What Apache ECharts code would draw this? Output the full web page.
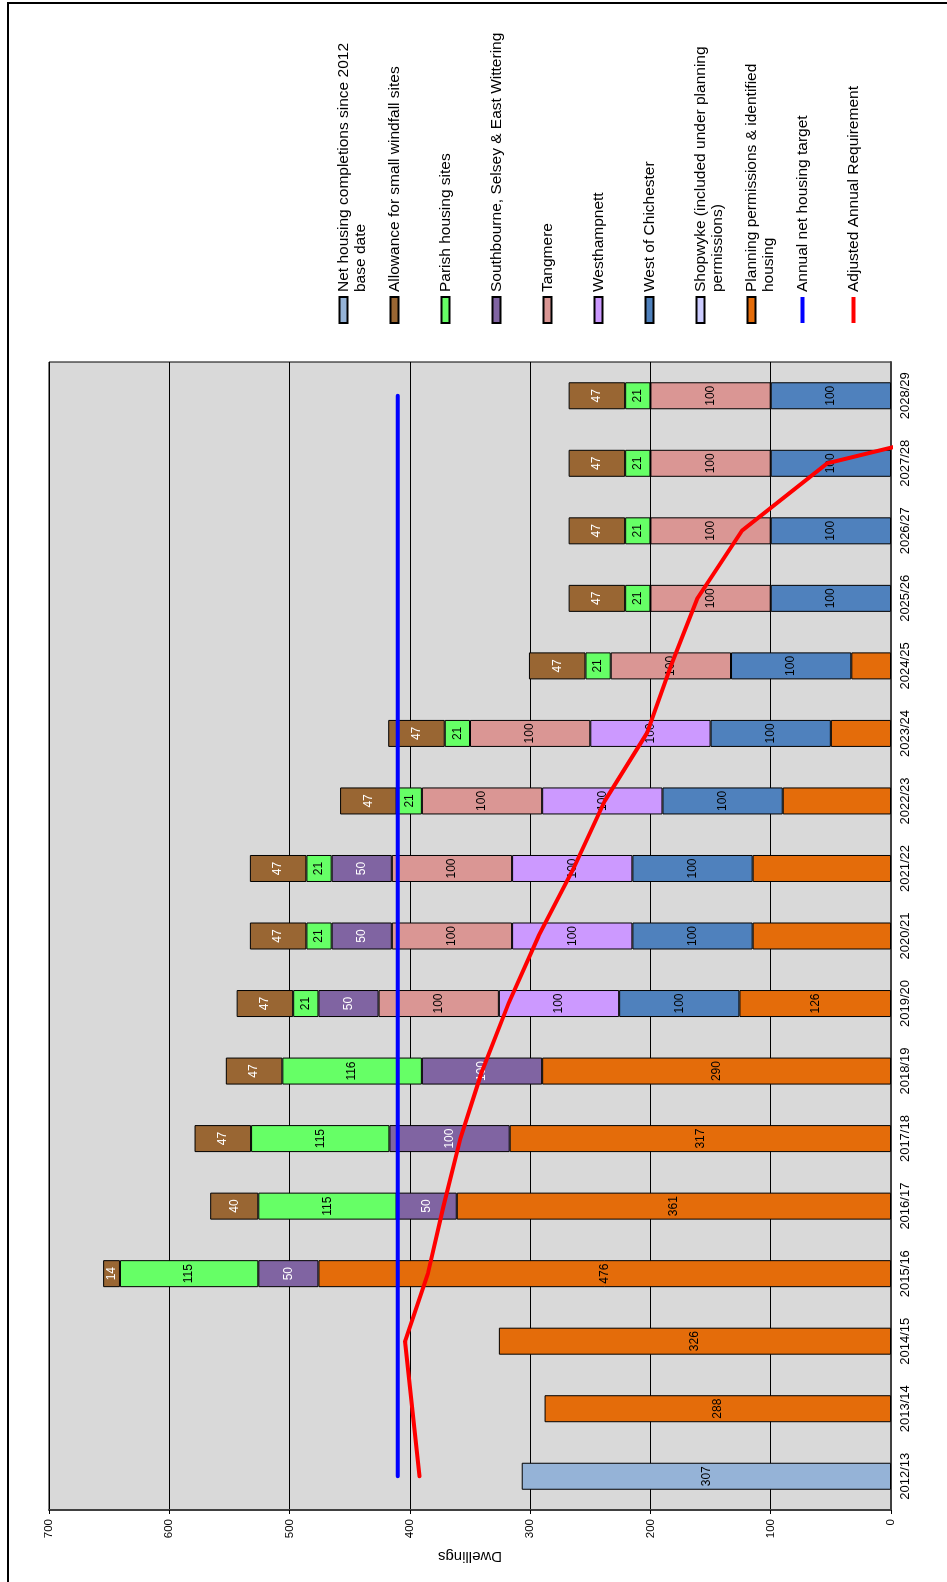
<!DOCTYPE html>
<html>
<head>
<meta charset="utf-8">
<script src="https://cdn.jsdelivr.net/npm/echarts@6/dist/echarts.min.js"></script>
<style>
  html, body { margin:0; padding:0; width:947px; height:1582px; overflow:hidden; background:#fff; }
  #rot { position:absolute; left:0; top:0; width:1582px; height:947px;
         transform-origin:0 0; transform: translateY(1582px) rotate(-90deg); }
  #frame { position:absolute; left:7px; top:2px; width:1000px; height:1700px;
           border-left:2px solid #000; border-top:2px solid #000; pointer-events:none; }
</style>
</head>
<body>
<div id="rot"></div>
<div id="frame"></div>
<script>
const categories = ['2012/13','2013/14','2014/15','2015/16','2016/17','2017/18','2018/19','2019/20','2020/21','2021/22','2022/23','2023/24','2024/25','2025/26','2026/27','2027/28','2028/29'];
const valueTicks = { min: 0, max: 700, interval: 100 };

const completions    = [307,'-','-','-','-','-','-','-','-','-','-','-','-','-','-','-','-'];
const planning       = ['-',288,326,476,361,317,290,126,115,115,90,50,33,'-','-','-','-'];
const planningLabel  = [false,true,true,true,true,true,true,true,false,false,false,false,false,false,false,false,false];
const shopwyke       = ['-','-','-','-','-','-','-','-','-','-','-','-','-','-','-','-','-'];
const westChichester = ['-','-','-','-','-','-','-',100,100,100,100,100,100,100,100,100,100];
const westhampnett   = ['-','-','-','-','-','-','-',100,100,100,100,100,'-','-','-','-','-'];
const tangmere       = ['-','-','-','-','-','-','-',100,100,100,100,100,100,100,100,100,100];
const southbourne    = ['-','-','-',50,50,100,100,50,50,50,'-','-','-','-','-','-','-'];
const parish         = ['-','-','-',115,115,115,116,21,21,21,21,21,21,21,21,21,21];
const windfall       = ['-','-','-',14,40,47,47,47,47,47,47,47,47,47,47,47,47];
const target         = [410,410,410,410,410,410,410,410,410,410,410,410,410,410,410,410,410];
const adjusted       = [392,398,404,385,372,358,340,318,293,264,238,203,183,161,124,53,-176];

const N = {
  comp: 'Net housing completions since 2012 base date',
  wind: 'Allowance for small windfall sites',
  par: 'Parish housing sites',
  sou: 'Southbourne, Selsey & East Wittering',
  tan: 'Tangmere',
  wes: 'Westhampnett',
  woc: 'West of Chichester',
  sho: 'Shopwyke (included under planning permissions)',
  pla: 'Planning permissions & identified housing',
  tar: 'Annual net housing target',
  adj: 'Adjusted Annual Requirement'
};
const legendWrapped = {};
legendWrapped[N.comp] = ['Net housing completions since 2012', 'base date'];
legendWrapped[N.sho] = ['Shopwyke (included under planning', 'permissions)'];
legendWrapped[N.pla] = ['Planning permissions & identified', 'housing'];

const FONT = "'Liberation Sans', Arial, sans-serif";

function barSeries(name, data, color, labelColor, labelFlags) {
  return {
    name: name, type: 'bar', stack: 'total', barWidth: 27,
    data: data.map((v, i) => (labelFlags && !labelFlags[i] && v !== '-') ? { value: v, label: { show: false } } : v),
    itemStyle: { color: color, borderColor: '#000', borderWidth: 1 },
    label: { show: true, position: 'inside', color: labelColor, fontSize: 12, fontFamily: FONT },
    emphasis: { disabled: true }
  };
}

const LH = 17;
// every legend entry is a 3-line block whose middle line sits on the swatch
function legendFormat(name) {
  const w = legendWrapped[name];
  if (w) return ' \n' + w[0] + '\n' + w[1];
  return ' \n' + name + '\n ';
}
const lineIcon = 'path://M0,0H26V4H0Z';

const chart = echarts.init(document.getElementById('rot'), null, { renderer: 'canvas' });
chart.setOption({
  animation: false,
  backgroundColor: 'transparent',
  textStyle: { fontFamily: FONT },
  grid: { left: 72, top: 49, width: 1148, height: 842, show: true, backgroundColor: '#d9d9d9', borderColor: '#000', borderWidth: 1 },
  legend: {
    orient: 'vertical', left: 1258, top: 318, padding: 0,
    itemWidth: 26, itemHeight: 8, itemGap: 0, selectedMode: false,
    textStyle: { fontSize: 15.5, color: '#000', lineHeight: LH, fontFamily: FONT },
    formatter: legendFormat,
    data: [
      { name: N.comp, icon: 'rect' }, { name: N.wind, icon: 'rect' }, { name: N.par, icon: 'rect' },
      { name: N.sou, icon: 'rect' }, { name: N.tan, icon: 'rect' }, { name: N.wes, icon: 'rect' },
      { name: N.woc, icon: 'rect' }, { name: N.sho, icon: 'rect' }, { name: N.pla, icon: 'rect' },
      { name: N.tar, icon: lineIcon }, { name: N.adj, icon: lineIcon }
    ]
  },
  xAxis: {
    type: 'category', data: categories, boundaryGap: true,
    axisLine: { show: true, lineStyle: { color: '#404040', width: 2 } },
    axisTick: { show: false },
    axisLabel: { color: '#000', fontSize: 13, margin: 8, fontFamily: FONT },
    splitLine: { show: false }
  },
  yAxis: {
    type: 'value', min: valueTicks.min, max: valueTicks.max, interval: valueTicks.interval,
    name: 'Dwellings', nameLocation: 'middle', nameGap: 32,
    nameTextStyle: { color: '#000', fontSize: 15, fontFamily: FONT },
    axisLine: { show: true, lineStyle: { color: '#404040', width: 2 } },
    axisTick: { show: true, length: 4, lineStyle: { color: '#000' } },
    axisLabel: { color: '#000', fontSize: 11.5, margin: 9, fontFamily: FONT },
    splitLine: { show: true, lineStyle: { color: '#000', width: 1 } }
  },
  series: [
    barSeries(N.comp, completions, '#95b3d7', '#000'),
    barSeries(N.pla, planning, '#e46c0a', '#000', planningLabel),
    barSeries(N.sho, shopwyke, '#ccccff', '#000'),
    barSeries(N.woc, westChichester, '#4f81bd', '#000'),
    barSeries(N.wes, westhampnett, '#cc99ff', '#000'),
    barSeries(N.tan, tangmere, '#da9694', '#000'),
    barSeries(N.sou, southbourne, '#8064a2', '#fff'),
    barSeries(N.par, parish, '#66ff66', '#000'),
    barSeries(N.wind, windfall, '#996633', '#fff'),
    {
      name: N.tar, type: 'line', data: target, symbol: 'none', z: 5,
      color: '#0000ff', itemStyle: { color: '#0000ff' },
      lineStyle: { color: '#0000ff', width: 4, cap: 'round' }, emphasis: { disabled: true }
    },
    {
      name: N.adj, type: 'line', data: adjusted, symbol: 'none', z: 6, clip: true,
      color: '#ff0000', itemStyle: { color: '#ff0000' },
      lineStyle: { color: '#ff0000', width: 4, cap: 'round', join: 'round' }, emphasis: { disabled: true }
    }
  ]
});
</script>
</body>
</html>
